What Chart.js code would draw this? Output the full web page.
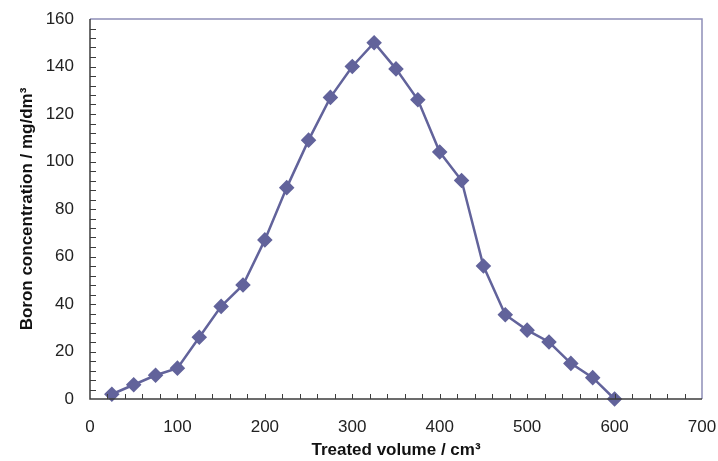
<!DOCTYPE html>
<html>
<head>
<meta charset="utf-8">
<script src="https://cdn.jsdelivr.net/npm/chart.js@4/dist/chart.umd.min.js"></script>
<style>
  html, body { margin: 0; padding: 0; background: #fff; }
</style>
</head>
<body>
<canvas id="boronChart" width="718" height="461"></canvas>
<script>
var volumes = [25,50,75,100,125,150,175,200,225,250,275,300,325,350,375,400,425,450,475,500,525,550,575,600];
var boron = [2,6,10,13,26,39,48,67,89,109,127,140,150,139,126,104,92,56,35.5,29,24,15,9,0];
var xTicks = [0,100,200,300,400,500,600,700];
var yTicks = [0,20,40,60,80,100,120,140,160];

var lineColor = '#62639b';

// inward minor ticks + the light frame on top/right
var frame = {
  id: 'frame',
  afterDraw: function(chart){
    var c = chart.ctx, a = chart.chartArea;
    var xs = chart.scales.x, ys = chart.scales.y;
    c.save();
    c.strokeStyle = '#8f8fb8';
    c.lineWidth = 1.5;
    c.beginPath();
    c.moveTo(a.left, a.top); c.lineTo(a.right, a.top); c.lineTo(a.right, a.bottom);
    c.stroke();
    c.strokeStyle = '#3c3c3c';
    c.lineWidth = 1;
    c.beginPath();
    for (var v = 20; v < 700; v += 20) {
      var px = Math.round(xs.getPixelForValue(v)) + 0.5;
      c.moveTo(px, a.bottom); c.lineTo(px, a.bottom - 5);
    }
    for (var w = 4; w < 160; w += 4) {
      var py = Math.round(ys.getPixelForValue(w)) + 0.5;
      c.moveTo(a.left, py); c.lineTo(a.left + 6, py);
    }
    c.stroke();
    c.lineWidth = 1.5;
    c.beginPath();
    c.moveTo(a.left, a.top); c.lineTo(a.left, a.bottom); c.lineTo(a.right, a.bottom);
    c.stroke();
    c.restore();
  }
};

function noEdgePad(s){
  s.paddingLeft = 0; s.paddingRight = 0; s.paddingTop = 0; s.paddingBottom = 0;
}

new Chart(document.getElementById('boronChart'), {
  type: 'scatter',
  data: {
    datasets: [{
      data: volumes.map(function(v, i){ return {x: v, y: boron[i]}; }),
      showLine: true,
      borderColor: lineColor,
      backgroundColor: lineColor,
      borderWidth: 2.5,
      pointStyle: 'rectRot',
      pointRadius: 6,
      pointHoverRadius: 6,
      clip: false
    }]
  },
  options: {
    responsive: false,
    animation: false,
    devicePixelRatio: 1,
    layout: { padding: { top: 19, right: 16, left: 0, bottom: 0 } },
    plugins: { legend: { display: false }, tooltip: { enabled: false } },
    scales: {
      x: {
        type: 'linear', min: 0, max: 700,
        afterBuildTicks: function(s){ s.ticks = xTicks.map(function(v){ return {value: v}; }); },
        afterFit: function(s){ s.height = 62; noEdgePad(s); },
        grid: { display: false, drawTicks: false },
        border: { display: false },
        ticks: { padding: 18, autoSkip: false, maxRotation: 0, color: '#222', font: { family: 'Liberation Sans', size: 17 } },
        title: { display: true, text: 'Treated volume / cm\u00b3', color: '#111', padding: { top: 4, bottom: 0 },
                 font: { family: 'Liberation Sans', size: 17, weight: 'bold' } }
      },
      y: {
        type: 'linear', min: 0, max: 160,
        afterBuildTicks: function(s){ s.ticks = yTicks.map(function(v){ return {value: v}; }); },
        afterFit: function(s){ s.width = 90; noEdgePad(s); },
        grid: { display: false, drawTicks: false },
        border: { display: false },
        ticks: { padding: 16, autoSkip: false, color: '#222', font: { family: 'Liberation Sans', size: 17 } },
        title: { display: true, text: 'Boron concentration / mg/dm\u00b3', color: '#111', padding: { bottom: 0, top: 17 },
                 font: { family: 'Liberation Sans', size: 17, weight: 'bold' } }
      }
    }
  },
  plugins: [frame]
});
</script>
</body>
</html>
